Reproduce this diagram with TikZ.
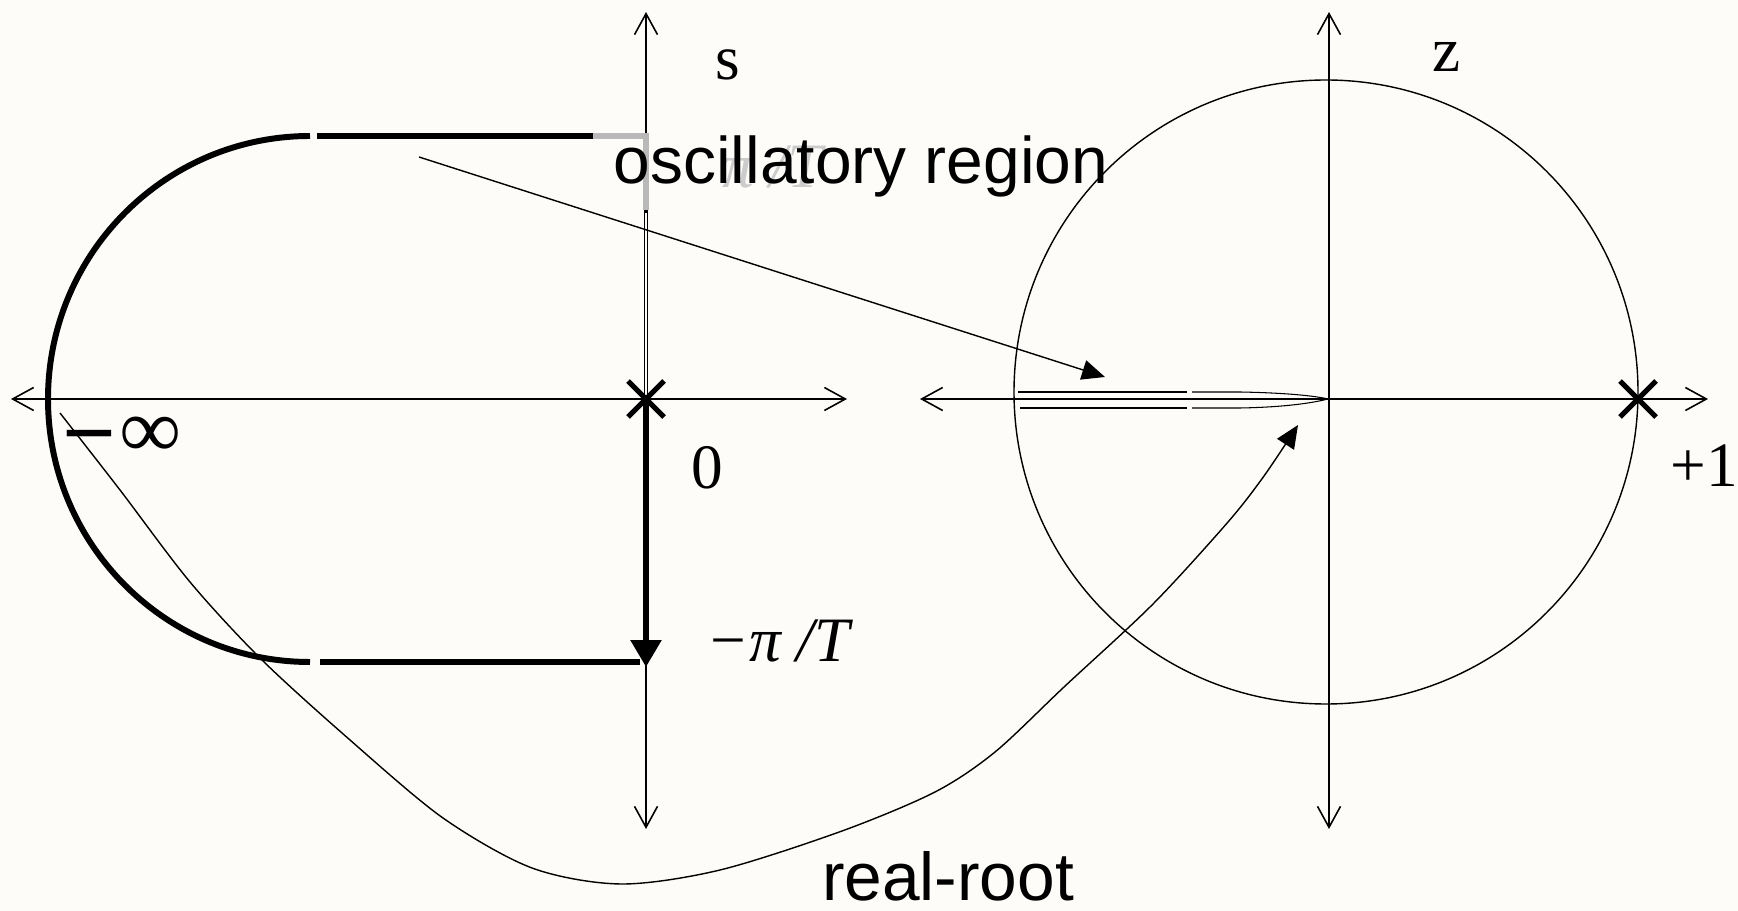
\documentclass[tikz,border=0pt]{standalone}
\usepackage{fontspec}
\setmainfont{Liberation Serif}
\newfontfamily\sansf{Liberation Sans}
\usetikzlibrary{arrows.meta}
\definecolor{bg}{RGB}{254,252,249}
\begin{document}
\begin{tikzpicture}[x=0.02cm,y=-0.02cm,
  axisline/.style={line width=0.9pt,{Straight Barb[length=0.42cm,width=0.46cm]}-{Straight Barb[length=0.42cm,width=0.46cm]}},
  thickline/.style={line width=3.4pt},
  thinline/.style={line width=0.8pt},
  fineline/.style={line width=0.6pt},
  polemark/.style={line width=3pt},
  lab/.style={inner sep=0pt,font=\fontsize{36}{40}\selectfont},
  sanslab/.style={inner sep=0pt,font=\sansf\fontsize{37.5}{42}\selectfont},
  fillarrow/.style={-{Triangle[length=0.46cm,width=0.4cm]}}]
\fill[bg] (0,0) rectangle (1738,911);
\useasboundingbox (0,0) rectangle (1738,911);
% ---------- s-plane ----------
\coordinate (sL) at (11,399);
\coordinate (sR) at (847,399);
\coordinate (sT) at (646,12);
\coordinate (sB) at (646,829);
\coordinate (s0) at (646,399);
\coordinate (sPi) at (646,667);
\draw[axisline] (sL) -- (sR);
\draw[axisline] (sB) -- (sT);
% contour
\draw[thickline] (310,136) arc[start angle=270,end angle=90,x radius=262,y radius=263];
\draw[thickline] (317,136) -- (593,136);
\draw[line width=3pt,gray!55] (593,136) -- (646,136) -- (646,210);
\draw[line width=2.5pt] (646,210) -- (s0);
\draw[line width=0.8pt,bg] (646,213) -- (646,396);
\draw[thickline] (320,662) -- (640,662);
\draw[line width=3.2pt,-{Triangle[length=0.54cm,width=0.6cm]}] (s0) -- (sPi);
% pole at 0
\draw[polemark] (628,381) -- (664,417) (628,417) -- (664,381);
% labels
\node[lab,anchor=base] (slab) at (728,80) {s};
\node[lab,anchor=base] (zero) at (707,489) {0};
\node[lab,anchor=base west,font=\fontsize{36}{40}\selectfont\itshape] (mpiT) at (706,662) {−π /T};
\node[inner sep=0pt,anchor=base west,font=\fontsize{46}{50}\selectfont] (minf) at (62,448)
  {\raisebox{-0.57cm}{\scalebox{1.18}[1.6]{−}}\hspace{0.08cm}\raisebox{-0.2cm}{\fontsize{48}{52}\selectfont\bfseries ∞}};
\node[lab,anchor=base west,text=gray!40,font=\fontsize{36}{40}\selectfont\itshape] (piT) at (722,188) {π /T};
% ---------- z-plane ----------
\coordinate (zL) at (920,399);
\coordinate (zR) at (1708,399);
\coordinate (zT) at (1329,12);
\coordinate (zB) at (1329,829);
\coordinate (zO) at (1328,399);
\draw[axisline] (zL) -- (zR);
\draw[axisline] (zB) -- (zT);
\draw[thinline] (1326,392) circle[radius=312];
% mapped strip (real segment)
\draw[fineline] (1018,392) -- (1187,392) (1020,408) -- (1187,408);
\draw[fineline] (1192,392) -- (1240,392) .. controls (1295,393) and (1320,397) .. (zO)
  .. controls (1320,401) and (1295,407) .. (1240,408) -- (1192,408);
% pole at +1
\draw[polemark] (1620,381) -- (1656,417) (1620,417) -- (1656,381);
\node[lab,anchor=base] (zlab) at (1447,72) {z};
\node[lab,anchor=base west] (plus1) at (1670,487) {+1};
% ---------- mapping arrows ----------
\coordinate (oscStart) at (419,157);
\coordinate (oscEnd) at (1105,377);
\draw[thinline,fillarrow] (oscStart) -- (oscEnd);
\draw[thinline,fillarrow] plot[smooth,tension=0.5] coordinates {(60,413) (120,490) (190,582) (262,660) (350,740) (443,818) (532,868) (621,884) (720,870) (842,831) (935,792) (995,752) (1064,687) (1153,604) (1228,522) (1264,476) (1298,425)};
\node[sanslab,anchor=base] (osc) at (861,184) {oscillatory region};
\node[sanslab,anchor=base,font=\sansf\fontsize{38.5}{42}\selectfont] (real) at (948,900) {real-root};
\end{tikzpicture}
\end{document}
